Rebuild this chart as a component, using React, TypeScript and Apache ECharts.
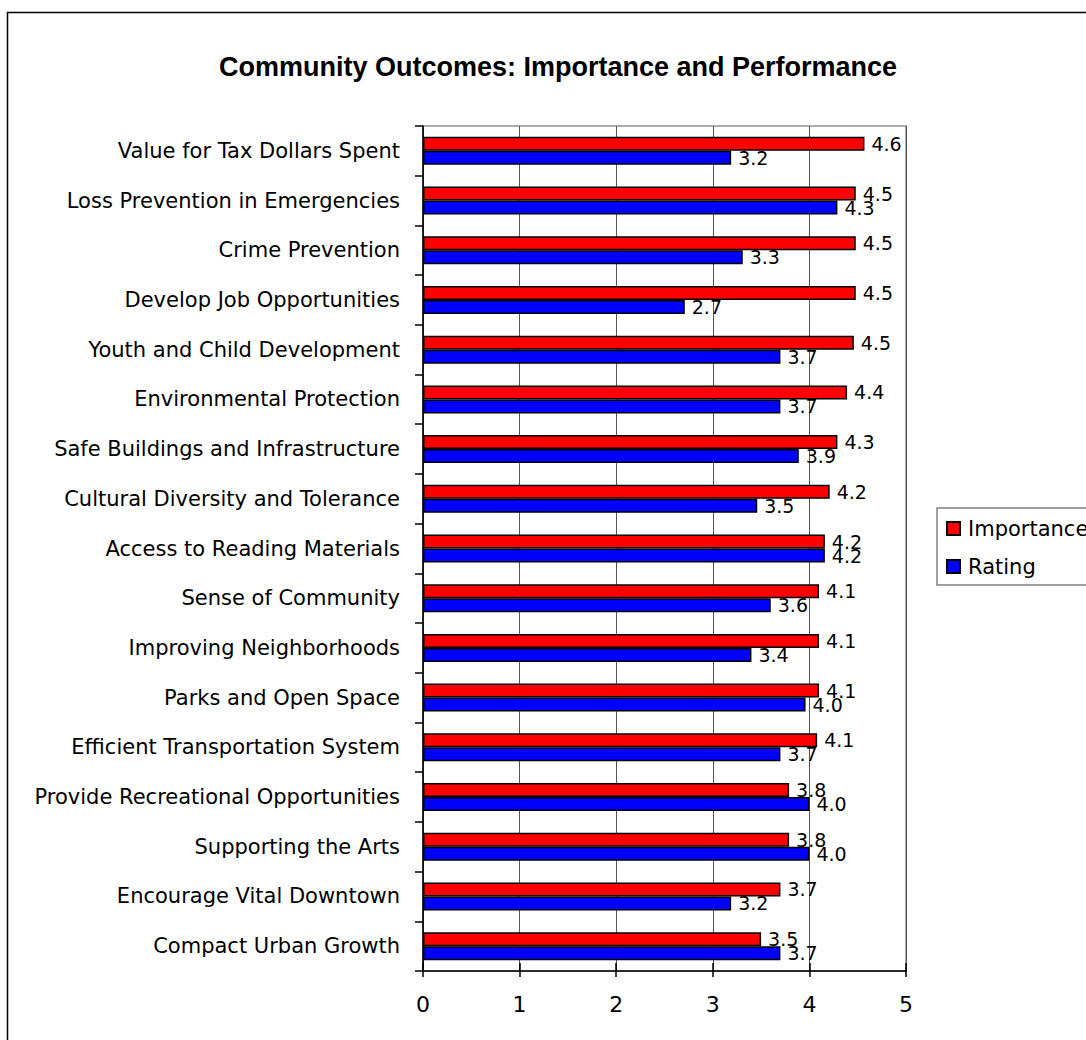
import React, { useEffect, useRef } from "react";
import * as echarts from "echarts";

const titleText = "Community Outcomes: Importance and Performance";
const categories = [
  "Value for Tax Dollars Spent",
  "Loss Prevention in Emergencies",
  "Crime Prevention",
  "Develop Job Opportunities",
  "Youth and Child Development",
  "Environmental Protection",
  "Safe Buildings and Infrastructure",
  "Cultural Diversity and Tolerance",
  "Access to Reading Materials",
  "Sense of Community",
  "Improving Neighborhoods",
  "Parks and Open Space",
  "Efficient Transportation System",
  "Provide Recreational Opportunities",
  "Supporting the Arts",
  "Encourage Vital Downtown",
  "Compact Urban Growth",
];
const importance = [4.57, 4.48, 4.48, 4.48, 4.46, 4.39, 4.29, 4.21, 4.16, 4.1, 4.1, 4.1, 4.08, 3.79, 3.79, 3.7, 3.5];
const rating = [3.19, 4.29, 3.31, 2.71, 3.7, 3.7, 3.89, 3.46, 4.16, 3.6, 3.4, 3.96, 3.7, 4.0, 4.0, 3.19, 3.7];
const xTicks = { min: 0, max: 5, interval: 1 };

const FONT = '"Liberation Sans", Arial, sans-serif';
const WIDE = '"DejaVu Sans", "Liberation Sans", sans-serif';

export default function App() {
  const ref = useRef<HTMLDivElement>(null);
  useEffect(() => {
    if (!ref.current) return;
    const chart = echarts.init(ref.current, undefined, { renderer: "svg" });
    const barLabel = {
      show: true,
      position: "right",
      distance: 7,
      fontSize: 19,
      fontFamily: WIDE,
      color: "#000",
      formatter: (p: any) => Number(p.value).toFixed(1),
    };
    chart.setOption({
      animation: false,
      backgroundColor: "#fff",
      textStyle: { fontFamily: WIDE },
      title: {
        text: titleText,
        left: 553,
        top: 48,
        textAlign: "center",
        textStyle: { fontSize: 27, fontWeight: "bold", color: "#000", fontFamily: FONT },
      },
      graphic: [
        {
          type: "rect",
          shape: { x: 7.5, y: 12.5, width: 1200, height: 1200 },
          style: { fill: "none", stroke: "#000", lineWidth: 1.5 },
          silent: true,
          z: 0,
        },
      ],
      legend: {
        orient: "vertical",
        left: 937,
        top: 508,
        itemWidth: 13,
        itemHeight: 13,
        itemGap: 17,
        icon: "rect",
        padding: [10, 60, 8, 9],
        borderColor: "#808080",
        borderWidth: 1.5,
        textStyle: { fontSize: 21, color: "#000", fontFamily: WIDE, padding: [0, 0, 0, 3] },
        data: ["Importance", "Rating"],
      },
      grid: {
        left: 423,
        top: 126,
        right: 180,
        bottom: 69,
        show: true,
        borderColor: "#909090",
        borderWidth: 1.5,
        containLabel: false,
      },
      xAxis: [
        {
          type: "value",
          min: xTicks.min,
          max: xTicks.max,
          interval: xTicks.interval,
          axisLine: { show: true, lineStyle: { color: "#000", width: 1.5 } },
          axisTick: { show: true, length: 6, lineStyle: { color: "#000", width: 1.5 } },
          axisLabel: { fontSize: 22, color: "#000", margin: 22, fontFamily: WIDE },
          splitLine: { show: true, lineStyle: { color: "#555", width: 1 } },
        },
        {
          type: "value",
          position: "bottom",
          min: xTicks.min,
          max: xTicks.max,
          interval: xTicks.interval,
          axisLine: { show: false },
          axisTick: { show: true, inside: true, length: 8, lineStyle: { color: "#000", width: 1.5 } },
          axisLabel: { show: false },
          splitLine: { show: false },
        },
      ],
      yAxis: {
        type: "category",
        inverse: true,
        data: categories,
        axisLine: { show: true, lineStyle: { color: "#000", width: 1.5 } },
        axisTick: { show: true, length: 8, lineStyle: { color: "#000", width: 1.5 } },
        axisLabel: { fontSize: 21, color: "#000", margin: 23, fontFamily: WIDE },
      },
      series: [
        {
          name: "Importance",
          type: "bar",
          data: importance,
          barWidth: 14,
          barGap: "0%",
          itemStyle: { color: "#FF0000", borderColor: "#000", borderWidth: 1.5 },
          label: barLabel,
        },
        {
          name: "Rating",
          type: "bar",
          data: rating,
          barWidth: 14,
          barGap: "0%",
          itemStyle: { color: "#0000FF", borderColor: "#000", borderWidth: 1.5 },
          label: barLabel,
        },
      ],
    });
    return () => chart.dispose();
  }, []);
  return (
    <div
      ref={ref}
      style={{ position: "fixed", left: 0, top: 0, width: 1086, height: 1040, background: "#fff" }}
    />
  );
}
